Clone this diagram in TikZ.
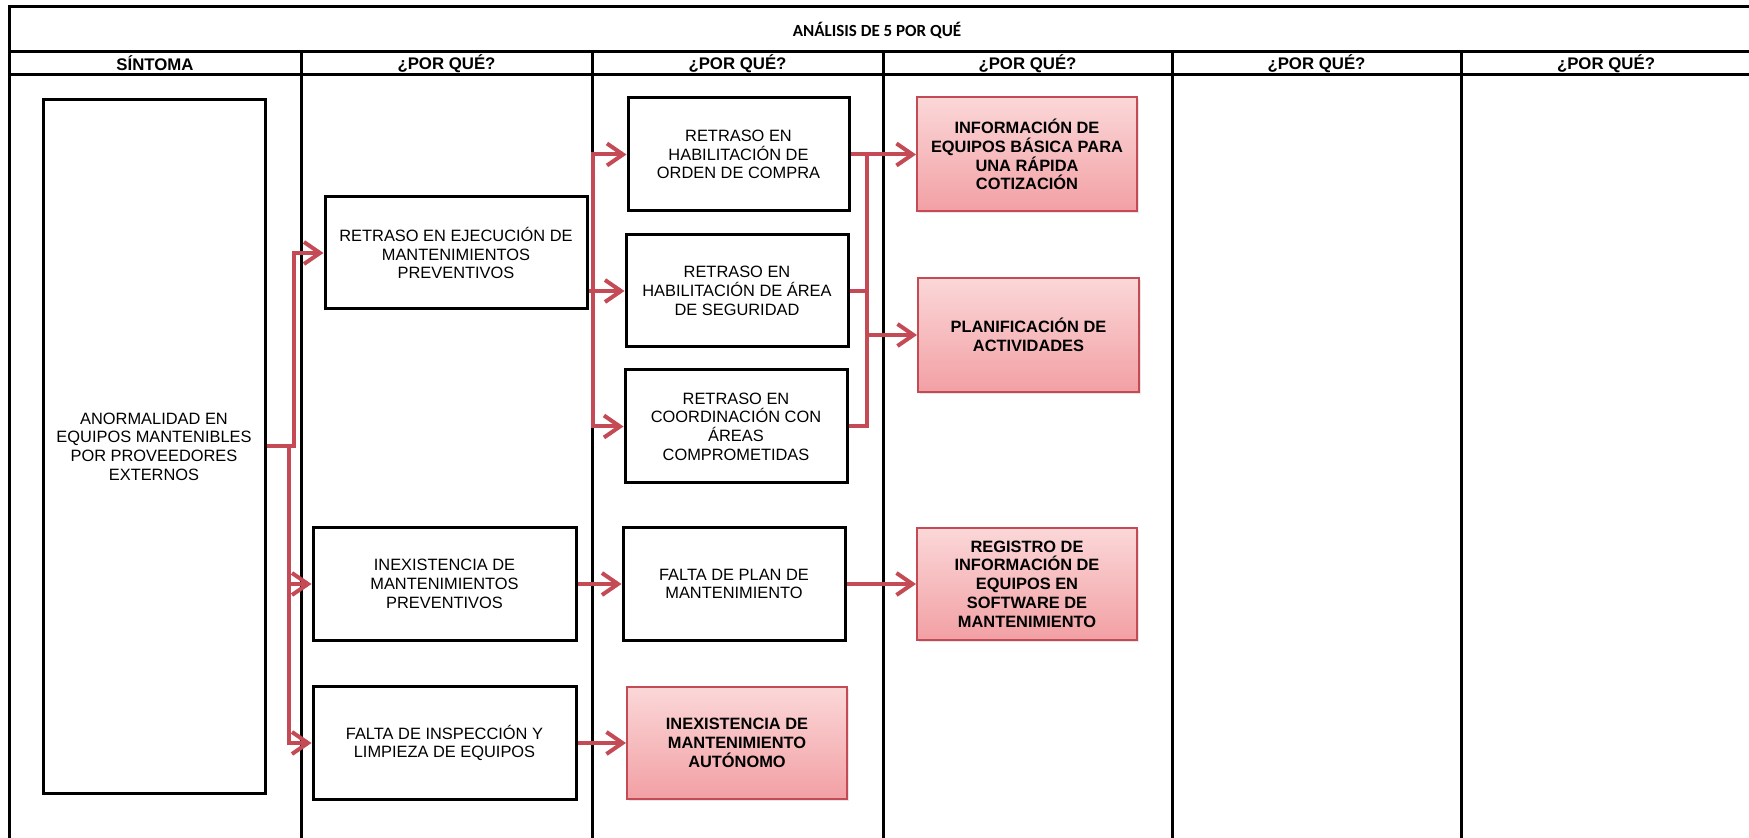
\documentclass[tikz,border=0pt]{standalone}
\usepackage{fontspec}
\setmainfont{Liberation Sans}
\newfontfamily\titlefont{Carlito}
\usetikzlibrary{arrows.meta,shadows}
\definecolor{arr}{HTML}{C44A55}
\definecolor{pinktop}{HTML}{FBD7D8}
\definecolor{pinkbot}{HTML}{F2A0A4}
\begin{document}
\begin{tikzpicture}[x=0.5pt,y=-0.5pt,
  grid/.style={line width=1.5pt, black},
  boxtext/.style={align=center, font=\fontsize{8.2}{9.35}\selectfont, inner sep=0pt},
  wbox/.style={boxtext, draw=black, line width=1.5pt, fill=white},
  pbox/.style={boxtext, font=\fontsize{8.2}{9.35}\selectfont\bfseries, draw=arr, line width=1pt,
    top color=pinktop, bottom color=pinkbot,
    drop shadow={opacity=0.2, shadow xshift=1pt, shadow yshift=-1pt}},
  hdr/.style={font=\fontsize{8.4}{9}\selectfont\bfseries, inner sep=0pt},
  conn/.style={draw=arr, line width=2pt},
  arw/.style={conn, -{Straight Barb[length=8pt,width=11pt]}}
]
\useasboundingbox (0,0) rectangle (1749,838);
% table grid
\draw[grid] (9,838) -- (9,7) -- (1749,7);
\draw[grid] (9,52) -- (1749,52);
\draw[grid] (9,75) -- (1749,75);
\foreach \cx in {301,592,883,1172,1461} \draw[grid] (\cx,52) -- (\cx,838);
% title and headers
\node[font=\titlefont\fontsize{8.5}{10}\selectfont\bfseries, inner sep=0pt] (title) at (877,30) {ANÁLISIS DE 5 POR QUÉ};
\node[hdr] (h1) at (155,63.5) {SÍNTOMA};
\node[hdr] (h2) at (446.5,63.5) {¿POR QUÉ?};
\node[hdr] (h3) at (737.5,63.5) {¿POR QUÉ?};
\node[hdr] (h4) at (1027.5,63.5) {¿POR QUÉ?};
\node[hdr] (h5) at (1316.5,63.5) {¿POR QUÉ?};
\node[hdr] (h6) at (1606,63.5) {¿POR QUÉ?};
% boxes
\node[wbox, minimum width=111pt, minimum height=346.5pt] (sym) at (154,446.5)
  {ANORMALIDAD EN\\EQUIPOS MANTENIBLES\\POR PROVEEDORES\\EXTERNOS};
\node[wbox, minimum width=131pt, minimum height=56pt] (c2a) at (456,253)
  {RETRASO EN EJECUCIÓN DE\\MANTENIMIENTOS\\PREVENTIVOS};
\node[wbox, minimum width=131.5pt, minimum height=56.5pt] (c2b) at (444.5,584)
  {INEXISTENCIA DE\\MANTENIMIENTOS\\PREVENTIVOS};
\node[wbox, minimum width=131.5pt, minimum height=56.5pt] (c2c) at (444.5,743)
  {FALTA DE INSPECCIÓN Y\\LIMPIEZA DE EQUIPOS};
\node[wbox, minimum width=110.5pt, minimum height=56.5pt] (c3a) at (738.5,154.5)
  {RETRASO EN\\HABILITACIÓN DE\\ORDEN DE COMPRA};
\node[wbox, minimum width=111pt, minimum height=56pt] (c3b) at (737,291)
  {RETRASO EN\\HABILITACIÓN DE ÁREA\\DE SEGURIDAD};
\node[wbox, minimum width=111pt, minimum height=56.5pt] (c3c) at (736,426.5)
  {RETRASO EN\\COORDINACIÓN CON\\ÁREAS\\COMPROMETIDAS};
\node[wbox, minimum width=111pt, minimum height=56.5pt] (c3d) at (734,584)
  {FALTA DE PLAN DE\\MANTENIMIENTO};
\node[pbox, minimum width=110pt, minimum height=56pt] (c3e) at (737,743)
  {INEXISTENCIA DE\\MANTENIMIENTO\\AUTÓNOMO};
\node[pbox, minimum width=110pt, minimum height=57pt] (c4a) at (1027,154.5)
  {INFORMACIÓN DE\\EQUIPOS BÁSICA PARA\\UNA RÁPIDA\\COTIZACIÓN};
\node[pbox, minimum width=110.5pt, minimum height=57pt] (c4b) at (1028.5,335)
  {PLANIFICACIÓN DE\\ACTIVIDADES};
\node[pbox, minimum width=110pt, minimum height=55.5pt] (c4c) at (1027,584)
  {REGISTRO DE\\INFORMACIÓN DE\\EQUIPOS EN\\SOFTWARE DE\\MANTENIMIENTO};
% junction points
\coordinate (j1) at (294,446.5);
\coordinate (j2) at (289,446.5);
\coordinate (k1) at (593,291);
\coordinate (k2) at (867,335);
% connectors
\draw[arw] (sym.east) -- (j1) |- (c2a.west);
\draw[arw] (j2) |- (c2b.west);
\draw[arw] (j2) |- (c2c.west);
\draw[arw] (c2a.east |- c3b.west) -- (c3b.west);
\draw[arw] (k1) |- (c3a.west);
\draw[arw] (k1) |- (c3c.west);
\draw[arw] (c3a.east) -- (c4a.west);
\draw[conn] (c3a.east -| k2) -- (k2);
\draw[conn] (c3b.east) -| (k2);
\draw[conn] (c3c.east) -| (k2);
\draw[arw] (k2) -- (c4b.west);
\draw[arw] (c2b.east) -- (c3d.west);
\draw[arw] (c3d.east) -- (c4c.west);
\draw[arw] (c2c.east) -- (c3e.west);
\end{tikzpicture}
\end{document}
